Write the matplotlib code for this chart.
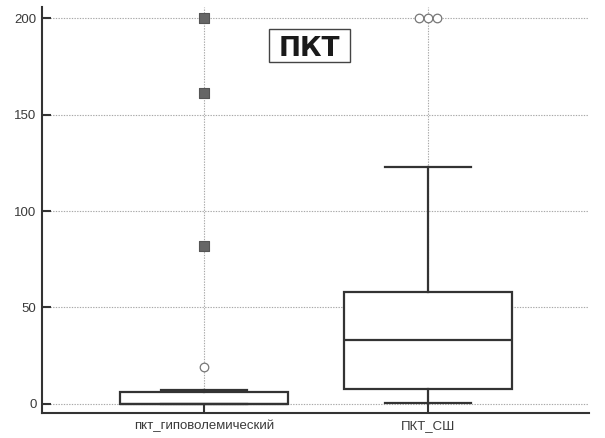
import matplotlib
matplotlib.use("Agg")
import matplotlib.pyplot as plt
from matplotlib.patches import Rectangle

plt.rcParams["font.family"] = ["Liberation Sans", "DejaVu Sans"]

# Группы и сводные статистики (ПКТ)
groups = ["пкт_гиповолемический", "ПКТ_СШ"]
q1 = [0, 8]
median = [0, 33]
q3 = [6, 58]
whisker_low = [0, 0.5]
whisker_high = [7, 123]
# выбросы: умеренные (кружки) и крайние (квадраты)
mild_outliers = [[19], [200, 200, 200]]
far_outliers = [[82, 161, 200], []]
mild_offsets = [[0.0], [-0.038, 0.0, 0.04]]  # сдвиг совпадающих точек по x

yticks = [0, 50, 100, 150, 200]
title = "ПКТ"

dark = "#333333"
grid_color = "#a8a8a8"

fig = plt.figure(figsize=(6.05, 4.38), dpi=100)
ax = fig.add_axes([0.0694, 0.0571, 0.9042, 0.9269])

stats = []
for i, name in enumerate(groups):
    stats.append(dict(label=name, q1=q1[i], med=median[i], q3=q3[i],
                      whislo=whisker_low[i], whishi=whisker_high[i], fliers=[]))

positions = list(range(len(groups)))
line_kw = dict(color=dark, linewidth=1.6)
ax.bxp(stats, positions=positions, widths=0.75, capwidths=0.38,
       showfliers=False, patch_artist=True,
       boxprops=dict(facecolor="white", edgecolor=dark, linewidth=1.6),
       medianprops=line_kw, whiskerprops=line_kw, capprops=line_kw, zorder=3)

for i, pos in enumerate(positions):
    xs = [pos + d for d in mild_offsets[i]]
    ax.scatter(xs, mild_outliers[i], s=38, marker="o", facecolor="white",
               edgecolor="#777777", linewidth=0.9, zorder=4, clip_on=False)
    if far_outliers[i]:
        ax.scatter([pos] * len(far_outliers[i]), far_outliers[i], s=48, marker="s",
                   facecolor="#666666", edgecolor="#555555", linewidth=0.8,
                   zorder=4, clip_on=False)

# пунктирная сетка: горизонтальная по делениям и вертикальная по группам
for y in yticks:
    ax.axhline(y, color=grid_color, linestyle=(0, (1.2, 1.2)), linewidth=0.8, zorder=1)
for pos in positions:
    ax.axvline(pos, color=grid_color, linestyle=(0, (1.2, 1.2)), linewidth=0.8, zorder=1)

ax.set_xlim(-0.723, 1.719)
ax.set_ylim(-4.66, 205.7)
ax.set_yticks(yticks)
ax.set_xticks(positions)
ax.set_xticklabels(groups)

for side in ("top", "right"):
    ax.spines[side].set_visible(False)
for side in ("left", "bottom"):
    ax.spines[side].set_color(dark)
    ax.spines[side].set_linewidth(1.5)

ax.tick_params(axis="y", direction="in", length=6.5, width=1.5, color=dark,
               labelsize=9.5, labelcolor="#3a3a3a", pad=4)
ax.tick_params(axis="x", direction="in", length=7, width=1.5, color=dark,
               labelsize=9.5, labelcolor="#3a3a3a", pad=5)

# заголовок в рамке внутри области графика
ax.add_patch(Rectangle((0.415, 0.8645), 0.148, 0.0813, transform=ax.transAxes,
                       facecolor="white", edgecolor="#444444", linewidth=1.0,
                       zorder=5, clip_on=False))
ax.text(0.489, 0.905, title, transform=ax.transAxes, ha="center", va="center_baseline",
        fontsize=19, fontweight="bold", color="#1a1a1a", zorder=6,
        family=["DejaVu Sans"])

fig.savefig("out.png", dpi=100)
